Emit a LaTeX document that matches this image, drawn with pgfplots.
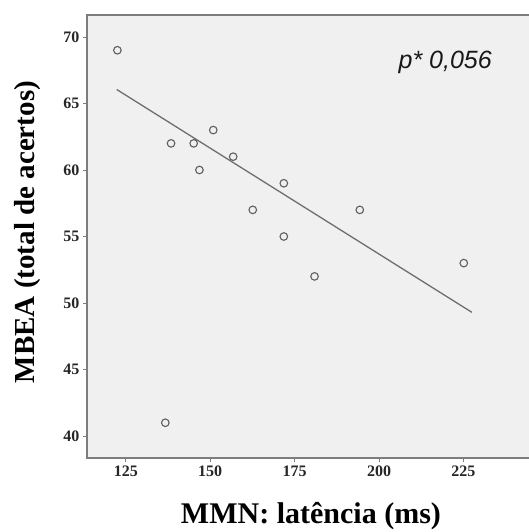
\documentclass[border=0pt]{standalone}
\usepackage{fontspec}
\setmainfont{Liberation Serif}
\newfontfamily\arialfont{Liberation Sans}
\usepackage{pgfplots}
\pgfplotsset{compat=1.18}
\definecolor{bgfill}{RGB}{240,240,240}
\definecolor{frame}{RGB}{125,125,125}
\definecolor{ptcol}{RGB}{95,95,95}
\definecolor{fitcol}{RGB}{110,110,110}
\begin{document}
\begin{tikzpicture}
\useasboundingbox (0,0) rectangle (528pt,532pt);
\begin{axis}[
    at={(87pt,74pt)}, anchor=south west,
    width=447pt, height=443pt, scale only axis,
    xmin=113.5, xmax=245.9,
    ymin=38.35, ymax=71.65,
    xtick={125,150,175,200,225},
    ytick={40,45,50,55,60,65,70},
    axis line style={draw=frame, line width=1.6pt},
    axis background/.style={fill=bgfill},
    tick style={draw=frame, line width=0.8pt},
    tick align=outside, major tick length=4pt,
    xtick pos=bottom, ytick pos=left,
    /pgf/number format/assume math mode=true,
    tick label style={font=\fontsize{16}{16}\selectfont\bfseries, text=black!85},
    xlabel={MMN: latência (ms)},
    ylabel={MBEA (total de acertos)},
    label style={font=\fontsize{29}{34}\selectfont\bfseries},
    xlabel style={at={(axis description cs:0.501,-0.131)}, anchor=center, font=\fontsize{30}{34}\selectfont\bfseries},
    ylabel style={at={(axis description cs:-0.134,0.51)}, anchor=center, rotate=0},
]
% observed points
\addplot[only marks, mark=o, mark size=3.8pt, draw=ptcol, line width=1.1pt] coordinates {
    (122.5,69) (138.4,62) (145.1,62) (146.8,60) (150.9,63) (156.8,61)
    (171.8,59) (162.6,57) (171.8,55) (180.9,52) (194.3,57) (225.1,53)
    (136.7,41)
};
% fit line, endpoints
\addplot[fitcol, line width=1.3pt] coordinates {(122.3,66.05) (227.5,49.3)};
\node[font=\arialfont\itshape\fontsize{25}{25}\selectfont, text=black!90] at (axis cs:219.6,68.1) {p* 0,056};
\end{axis}
\end{tikzpicture}
\end{document}
